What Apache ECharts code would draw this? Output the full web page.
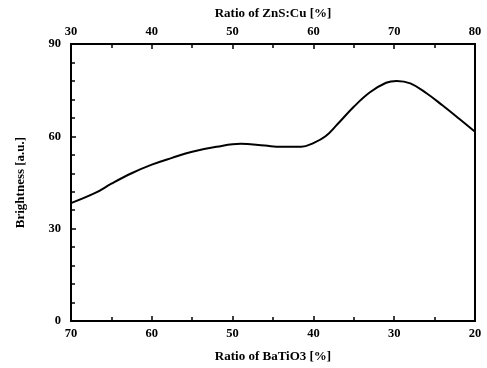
<!DOCTYPE html>
<html><head><meta charset="utf-8">
<script src="https://cdn.jsdelivr.net/npm/echarts@6/dist/echarts.min.js"></script>
<style>html,body{margin:0;padding:0;background:#fff}#c{width:487px;height:368px}</style>
</head><body><div id="c"></div>
<script>
const baTiO3 = [70, 67, 65, 62.5, 60, 57.5, 55, 52, 49, 46, 44, 41.5, 40, 38.5, 37, 35, 33, 31, 29.7, 28, 26, 24, 22, 20];
const brightness = [38.3, 41.6, 44.6, 48.0, 50.8, 53.0, 55.0, 56.6, 57.6, 57.0, 56.6, 56.6, 57.8, 60.0, 64.0, 69.6, 74.3, 77.4, 78.0, 77.2, 74.0, 70.0, 65.8, 61.5];
const bottomTicks = [70, 60, 50, 40, 30, 20];
const topTicks = [30, 40, 50, 60, 70, 80];
const yTicks = [0, 30, 60, 90];

const font = 'Liberation Serif';
const lab = {color:'#000', fontFamily:font, fontWeight:'bold', fontSize:12.5};
const nameStyle = {color:'#000', fontFamily:font, fontWeight:'bold', fontSize:13};
const axLine = {show:true, lineStyle:{color:'#000', width:2}};

const chart = echarts.init(document.getElementById('c'), null, {renderer:'canvas'});
chart.setOption({
  animation:false,
  backgroundColor:'#fff',
  grid:{left:71, right:12, top:44, bottom:47, show:true, borderColor:'#000', borderWidth:2,
        containLabel:false, outerBoundsMode:'none'},
  xAxis:[{
    type:'value', position:'bottom', inverse:true,
    min:bottomTicks[bottomTicks.length-1], max:bottomTicks[0], interval:10,
    name:'Ratio of BaTiO3 [%]', nameLocation:'middle', nameGap:29, nameTextStyle:nameStyle,
    axisLine:axLine, axisTick:{inside:true, length:5, lineStyle:{color:'#000', width:1.5}},
    minorTick:{show:true, splitNumber:2, length:4, lineStyle:{color:'#000', width:1.5}},
    axisLabel:Object.assign({margin:6}, lab), splitLine:{show:false}
  },{
    type:'value', position:'top',
    min:topTicks[0], max:topTicks[topTicks.length-1], interval:10,
    name:'Ratio of ZnS:Cu [%]', nameLocation:'middle', nameGap:21, nameTextStyle:nameStyle,
    axisLine:axLine, axisTick:{inside:true, length:5, lineStyle:{color:'#000', width:1.5}},
    minorTick:{show:true, splitNumber:2, length:4, lineStyle:{color:'#000', width:1.5}},
    axisLabel:Object.assign({margin:6}, lab), splitLine:{show:false}
  }],
  yAxis:[{
    type:'value', min:yTicks[0], max:yTicks[yTicks.length-1], interval:30,
    name:'Brightness [a.u.]', nameLocation:'middle', nameGap:44, nameTextStyle:nameStyle,
    axisLine:axLine, axisTick:{inside:true, length:5, lineStyle:{color:'#000', width:1.5}},
    minorTick:{show:true, splitNumber:5, length:4, lineStyle:{color:'#000', width:1.5}},
    axisLabel:Object.assign({margin:10}, lab), splitLine:{show:false}
  }],
  series:[{
    type:'line', xAxisIndex:0, yAxisIndex:0, smooth:0.4, showSymbol:false,
    lineStyle:{color:'#000', width:2},
    data: baTiO3.map((x,i)=>[x, brightness[i]])
  }]
});
</script></body></html>
